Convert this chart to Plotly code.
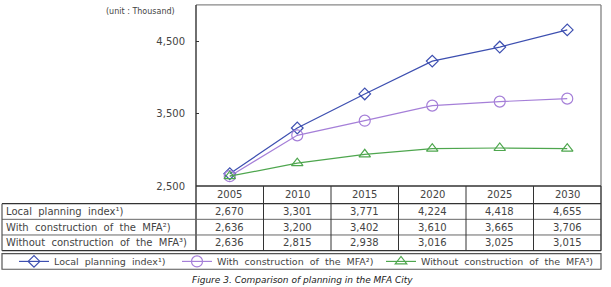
import plotly.graph_objects as go

years = ["2005", "2010", "2015", "2020", "2025", "2030"]
series_names = [
    "Local planning index\u00b9)",
    "With construction of the MFA\u00b2)",
    "Without construction of the MFA\u00b3)",
]
local_planning = [2670, 3301, 3771, 4224, 4418, 4655]
with_mfa = [2636, 3200, 3402, 3610, 3665, 3706]
without_mfa = [2636, 2815, 2938, 3016, 3025, 3015]
y_ticks = [2500, 3500, 4500]
unit_label = "(unit : Thousand)"
caption = "Figure 3. Comparison of planning in the MFA City"

W, H = 611, 287
def px(x):
    return x / W
def py(y):
    return 1 - y / H

def spaced(s):
    return s.replace(" ", "\u00a0\u00a0")

colors = ["#3d4fb0", "#a57fd8", "#4ea64e"]
symbols = ["diamond-open", "circle-open", "triangle-up-open"]
sizes = [9, 11, 10]
all_series = [local_planning, with_mfa, without_mfa]
legend_ids = ["legend", "legend2", "legend3"]
legend_x = [14, 177, 381]

txt = "#444444"
font = dict(family="DejaVu Sans", size=10, color=txt)
font_lbl = dict(family="DejaVu Sans", size=10, color=txt)
font_leg = dict(family="DejaVu Sans", size=9.5, color=txt)

fig = go.Figure()
for name, vals, c, s, sz, lg in zip(series_names, all_series, colors, symbols, sizes, legend_ids):
    fig.add_trace(go.Scatter(
        x=years, y=vals, name=spaced(name), mode="lines+markers", legend=lg,
        line=dict(color=c, width=1.2),
        marker=dict(symbol=s, size=sz, color=c, line=dict(color=c, width=1.2)),
        cliponaxis=False,
    ))

x_left, x_right = 196, 601
y_top, y_bot = 5, 190
rows_y = [190, 208, 224, 240, 256]
tbl_left = 2

shapes = []
shapes.append(dict(type="line", xref="paper", yref="paper", x0=px(x_left), x1=px(x_right), y0=py(y_top), y1=py(y_top), line=dict(color="#888888", width=1.2)))
shapes.append(dict(type="line", xref="paper", yref="paper", x0=px(x_right), x1=px(x_right), y0=py(y_top), y1=py(y_bot), line=dict(color="#777777", width=1.2)))
shapes.append(dict(type="line", xref="paper", yref="paper", x0=px(x_left), x1=px(x_left), y0=py(y_top), y1=py(rows_y[-1]), line=dict(color="#333333", width=1.4)))
shapes.append(dict(type="line", xref="paper", yref="paper", x0=px(x_left), x1=px(x_right), y0=py(rows_y[0]), y1=py(rows_y[0]), line=dict(color="#333333", width=1.4)))
for i, yy in enumerate(rows_y[1:]):
    outer = (i == 0 or yy == rows_y[-1])
    shapes.append(dict(type="line", xref="paper", yref="paper", x0=px(tbl_left), x1=px(x_right), y0=py(yy), y1=py(yy),
                       line=dict(color="#333333" if outer else "#666666", width=1.4 if outer else 1)))
shapes.append(dict(type="line", xref="paper", yref="paper", x0=px(tbl_left), x1=px(tbl_left), y0=py(rows_y[1]), y1=py(rows_y[-1]), line=dict(color="#555555", width=1.2)))
shapes.append(dict(type="line", xref="paper", yref="paper", x0=px(x_right), x1=px(x_right), y0=py(rows_y[0]), y1=py(rows_y[-1]), line=dict(color="#333333", width=1.4)))
for i in range(1, len(years)):
    shapes.append(dict(type="line", xref="x", yref="paper", x0=i - 0.5, x1=i - 0.5, y0=py(rows_y[0]), y1=py(rows_y[-1]), line=dict(color="#333333", width=1)))
shapes.append(dict(type="rect", xref="paper", yref="paper", x0=px(tbl_left), x1=px(x_right), y0=py(259), y1=py(275), line=dict(color="#555555", width=1.2)))

annotations = []
annotations.append(dict(text=unit_label.replace(" ", "\u00a0"), xref="paper", yref="paper", x=px(177), y=py(12), xanchor="right", yanchor="middle", showarrow=False, font=dict(family="DejaVu Sans", size=8, color=txt)))
for j, yr in enumerate(years):
    annotations.append(dict(text=yr, xref="x", yref="paper", x=j, y=py((rows_y[0] + rows_y[1]) / 2), xanchor="center", yanchor="middle", showarrow=False, font=font))
for r, (name, vals) in enumerate(zip(series_names, all_series)):
    yc = py((rows_y[r + 1] + rows_y[r + 2]) / 2)
    annotations.append(dict(text=spaced(name), xref="paper", yref="paper", x=px(4), y=yc, xanchor="left", yanchor="middle", showarrow=False, font=font_lbl))
    for j, v in enumerate(vals):
        annotations.append(dict(text=f"{v:,}", xref="x", yref="paper", x=j, y=yc, xanchor="center", yanchor="middle", showarrow=False, font=font))
annotations.append(dict(text="<i>" + caption + "</i>", xref="paper", yref="paper", x=px(302), y=0, yshift=-6, xanchor="center", yanchor="bottom", showarrow=False, font=dict(family="DejaVu Sans", size=9, color="#222222")))

legend_common = dict(orientation="h", y=py(267), xanchor="left", yanchor="middle",
                     bgcolor="rgba(0,0,0,0)", borderwidth=0, font=font_leg, itemwidth=30)
layout_legends = {lg: dict(legend_common, x=px(lx)) for lg, lx in zip(legend_ids, legend_x)}

fig.update_layout(
    width=W, height=H,
    margin=dict(l=0, r=0, t=0, b=0),
    paper_bgcolor="white", plot_bgcolor="white",
    shapes=shapes, annotations=annotations,
    showlegend=True,
    xaxis=dict(domain=[px(x_left), px(x_right)], type="category", range=[-0.5, len(years) - 0.5],
               showticklabels=False, showgrid=False, zeroline=False, showline=False, ticks=""),
    yaxis=dict(domain=[py(y_bot), py(y_top)], range=[2500, 5000], tickvals=y_ticks,
               tickformat=",d", showgrid=False, zeroline=False, showline=False,
               ticks="inside", ticklen=3, tickcolor="#333333", ticklabelstandoff=10,
               tickfont=dict(family="DejaVu Sans", size=10, color=txt)),
    **layout_legends,
)

fig.write_html("out.html")
